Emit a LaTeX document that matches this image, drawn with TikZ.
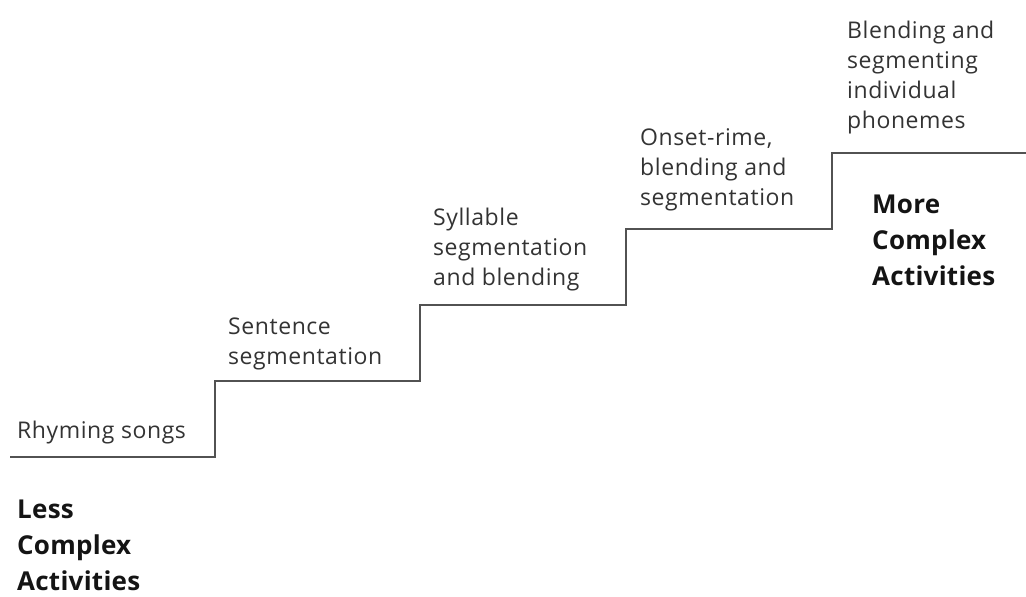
\documentclass[tikz,border=0pt]{standalone}
\usepackage{fontspec}
\setmainfont{Open Sans}
\newfontfamily\regfont{Open Sans}[LetterSpace=2.5]
\newfontfamily\boldfont{Open Sans}[LetterSpace=1]
\begin{document}
\begin{tikzpicture}[x=1pt,y=-1pt,
  stair/.style={draw=black!68,line width=2.6pt,line join=miter},
  lbl/.style={anchor=base west,align=left,inner sep=0pt,text=black!80,font=\regfont\fontsize{23}{30}\selectfont},
  big/.style={anchor=base west,align=left,inner sep=0pt,text=black!92,font=\boldfont\fontsize{26}{36}\selectfont\bfseries}]
\useasboundingbox (0,0) rectangle (1026,597);
\draw[stair] (10,457) -- (215,457) -- (215,381) -- (420,381) -- (420,305)
  -- (626,305) -- (626,229) -- (832,229) -- (832,153) -- (1026,153);
\node[lbl] (r) at (17,438) {Rhyming songs};
\node[lbl] (s) at (228,364) {Sentence\\segmentation};
\node[lbl] (y) at (433,285) {Syllable\\segmentation\\and blending};
\node[lbl] (o) at (640,205) {Onset-rime,\\blending and\\segmentation};
\node[lbl] (b) at (847,128) {Blending and\\segmenting\\individual\\phonemes};
\node[big] (m) at (872,285) {More\\Complex\\Activities};
\node[big] (l) at (17,590) {Less\\Complex\\Activities};
\end{tikzpicture}
\end{document}
